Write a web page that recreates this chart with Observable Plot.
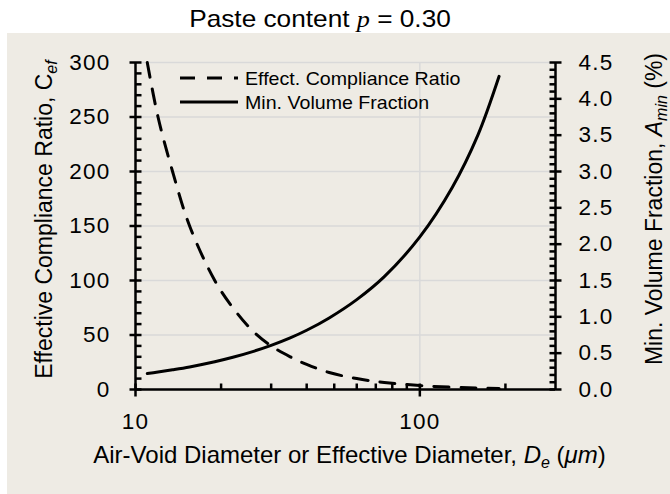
<!DOCTYPE html>
<html>
<head>
<meta charset="utf-8">
<script src="https://cdn.jsdelivr.net/npm/d3@7"></script>
<script src="https://cdn.jsdelivr.net/npm/@observablehq/plot@0.6"></script>
<style>
  body { margin: 0; background: #ffffff; }
  #chart svg { display: block; }
</style>
</head>
<body>
<div id="chart"></div>
<script>
// ---- data ----
const diameters = [11, 12, 13.5, 15.5, 19, 22, 26, 30, 35, 40, 48, 60, 75, 100, 130, 160, 190];
const complianceRatio = [300, 250, 200, 150, 100, 75, 53, 40, 30, 23, 15.6, 10, 6.5, 3.6, 2.1, 1.4, 1.0];
const minVolumeFraction = [0.22, 0.24, 0.271, 0.311, 0.382, 0.443, 0.525, 0.607, 0.71, 0.815, 0.985, 1.237, 1.553, 2.10, 2.78, 3.50, 4.31];

const seriesNames = ["Effect. Compliance Ratio", "Min. Volume Fraction"];
const leftTicks = [0, 50, 100, 150, 200, 250, 300];
const rightTicks = [0, 0.5, 1.0, 1.5, 2.0, 2.5, 3.0, 3.5, 4.0, 4.5];
const xTicks = [10, 100];
const xMinorTicks = [20, 30, 40, 50, 60, 70, 80, 90, 200];
const leftMinorTicks = d3.range(0, 301, 10).filter(v => v % 50 !== 0);
const rightMinorTicks = d3.range(0, 46, 1).filter(v => v % 5 !== 0).map(v => v / 10);

const xDomain = [10, 300];
const yDomain = [0, 300];
const rightMax = 4.5;
const k = yDomain[1] / rightMax; // secondary axis: % -> left-axis units

const rows = diameters.map((d, i) => ({d, c: complianceRatio[i], a: minVolumeFraction[i]}));

// ---- styling ----
const FONT = '"Liberation Sans", Arial, Helvetica, sans-serif';
const BG = "#eeebe4";
const GRID = "#d9d9d9";
const AX = 2.5;

const seg = (x1, y1, x2, y2) => ({draw(ctx) { ctx.moveTo(x1, y1); ctx.lineTo(x2, y2); }});
const leftMajor = seg(-6, 0, 6, 0), leftMinor = seg(0, 0, 6, 0);
const rightMajor = seg(-6, 0, 6, 0), rightMinor = seg(-6, 0, 0, 0);
const xMajor = seg(0, -6, 0, 7), xMinor = seg(0, -6, 0, 0);

const tickStyle = {stroke: "black", fill: "none", strokeWidth: AX};

const plot = Plot.plot({
  width: 670,
  height: 494,
  marginLeft: 135,
  marginRight: 115,
  marginTop: 62,
  marginBottom: 105,
  style: {background: "transparent", fontFamily: FONT, color: "black", overflow: "visible"},
  x: {type: "log", domain: xDomain, axis: null},
  y: {domain: yDomain, axis: null},
  marks: [
    Plot.gridY(leftTicks, {stroke: GRID, strokeOpacity: 1, strokeWidth: 1.5}),
    Plot.gridX([100], {stroke: GRID, strokeOpacity: 1, strokeWidth: 1.5}),
    Plot.line(rows, {x: "d", y: "c", stroke: "black", strokeWidth: 3, strokeDasharray: "15,12", curve: "catmull-rom"}),
    Plot.line(rows, {x: "d", y: r => r.a * k, stroke: "black", strokeWidth: 3, curve: "catmull-rom"}),
    // axis lines
    Plot.ruleX([xDomain[0], xDomain[1]], {y1: yDomain[0], y2: yDomain[1], stroke: "black", strokeWidth: AX}),
    Plot.ruleY([yDomain[0]], {x1: xDomain[0], x2: xDomain[1], stroke: "black", strokeWidth: AX}),
    // tick marks
    Plot.dot(leftTicks, {x: () => xDomain[0], y: d => d, symbol: leftMajor, ...tickStyle}),
    Plot.dot(leftMinorTicks, {x: () => xDomain[0], y: d => d, symbol: leftMinor, ...tickStyle}),
    Plot.dot(rightTicks, {x: () => xDomain[1], y: d => d * k, symbol: rightMajor, ...tickStyle}),
    Plot.dot(rightMinorTicks, {x: () => xDomain[1], y: d => d * k, symbol: rightMinor, ...tickStyle}),
    Plot.dot(xTicks, {x: d => d, y: () => yDomain[0], symbol: xMajor, ...tickStyle}),
    Plot.dot(xMinorTicks, {x: d => d, y: () => yDomain[0], symbol: xMinor, ...tickStyle}),
    // tick labels
    Plot.axisY(leftTicks, {anchor: "left", tickSize: 0, tickPadding: 25, label: null, fontSize: 22.5, tickFormat: d => String(d)}),
    Plot.axisY(rightTicks.map(v => v * k), {anchor: "right", tickSize: 0, tickPadding: 23, label: null, fontSize: 22.5, tickFormat: d => (d / k).toFixed(1)}),
    Plot.axisX(xTicks, {anchor: "bottom", tickSize: 0, tickPadding: 24, label: null, fontSize: 22.5, tickFormat: d => String(d)})
  ]
});

const svg = d3.select(plot);

// slightly widen tick-label glyphs, as in the reference
svg.selectAll("g[aria-label$='tick label']").attr("letter-spacing", "1.2px");

// chart-area background
svg.insert("rect", ":first-child")
  .attr("x", 7).attr("y", 33).attr("width", 663).attr("height", 461).attr("fill", BG);

const g = svg.append("g").attr("font-family", FONT).attr("fill", "black");

// title
const title = g.append("text").attr("transform", "translate(320,27) scale(1.14,1)")
  .attr("text-anchor", "middle").attr("font-size", 23);
title.append("tspan").text("Paste content ");
title.append("tspan").attr("font-family", '"Liberation Serif", "DejaVu Serif", serif').attr("font-style", "italic").text("p");
title.append("tspan").text(" = 0.30");

// left y title
const lt = g.append("text").attr("transform", "translate(52,219.5) rotate(-90)")
  .attr("text-anchor", "middle").attr("font-size", 23);
lt.append("tspan").text("Effective Compliance Ratio, C");
lt.append("tspan").attr("font-style", "italic").attr("font-size", 16).attr("dy", 5).text("ef");

// right y title
const rt = g.append("text").attr("transform", "translate(662,209) rotate(-90)")
  .attr("text-anchor", "middle").attr("font-size", 23);
rt.append("tspan").text("Min. Volume Fraction, ");
rt.append("tspan").attr("font-style", "italic").text("A");
rt.append("tspan").attr("font-style", "italic").attr("font-size", 16).attr("dy", 5).text("min");
rt.append("tspan").attr("dy", -5).text(" (%)");

// x title
const xt = g.append("text").attr("transform", "translate(349.5,463)")
  .attr("text-anchor", "middle").attr("font-size", 24);
xt.append("tspan").text("Air-Void Diameter or Effective Diameter, ");
xt.append("tspan").attr("font-style", "italic").text("D");
xt.append("tspan").attr("font-style", "italic").attr("font-size", 16).attr("dy", 5).text("e");
xt.append("tspan").attr("dy", -5).text(" (");
xt.append("tspan").attr("font-style", "italic").text("μm");
xt.append("tspan").text(")");

// legend
const lg = g.append("g");
const legendRows = [
  {name: seriesNames[0], y: 78, dash: "15,12"},
  {name: seriesNames[1], y: 102, dash: null}
];
legendRows.forEach(r => {
  lg.append("line").attr("x1", 180).attr("x2", 238).attr("y1", r.y).attr("y2", r.y)
    .attr("stroke", "black").attr("stroke-width", 3).attr("stroke-dasharray", r.dash);
  lg.append("text").attr("transform", `translate(245,${r.y + 6.5}) scale(1.09,1)`)
    .attr("text-anchor", "start").attr("font-size", 18).text(r.name);
});

document.getElementById("chart").appendChild(plot);
</script>
</body>
</html>
